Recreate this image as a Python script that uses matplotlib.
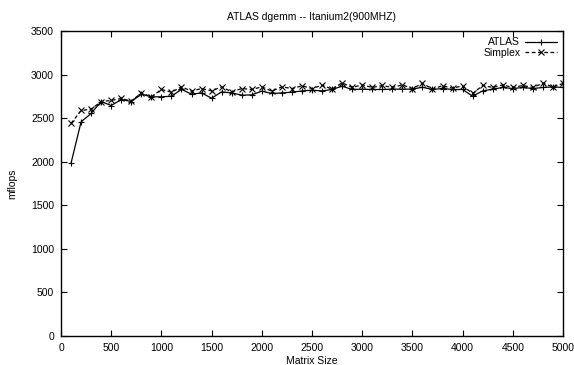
import matplotlib.pyplot as plt

plt.rcParams['font.family'] = ['Liberation Sans', 'DejaVu Sans']

sizes = list(range(100, 5001, 100))
atlas = [1985, 2458, 2554, 2691, 2645, 2714, 2691, 2775, 2745, 2745,
         2752, 2831, 2775, 2790, 2729, 2802, 2790, 2764, 2767, 2810,
         2783, 2790, 2798, 2812, 2821, 2813, 2829, 2867, 2829, 2833,
         2829, 2829, 2833, 2833, 2833, 2855, 2829, 2840, 2829, 2829,
         2752, 2813, 2833, 2852, 2840, 2852, 2840, 2852, 2859, 2852]
simplex = [2439, 2588, 2603, 2691, 2703, 2726, 2695, 2790, 2745, 2829,
           2798, 2859, 2810, 2840, 2813, 2859, 2802, 2840, 2829, 2859,
           2810, 2859, 2840, 2871, 2840, 2878, 2833, 2905, 2852, 2882,
           2852, 2875, 2852, 2882, 2840, 2898, 2836, 2871, 2844, 2871,
           2783, 2875, 2852, 2882, 2852, 2875, 2852, 2901, 2859, 2898]

fig = plt.figure(figsize=(5.74, 3.65), dpi=100)
ax = fig.add_axes([0.1063, 0.0795, 0.8745, 0.8355])

ax.plot(sizes, atlas, color='black', lw=0.9, marker='+', ms=5, mew=0.8, label='ATLAS')
ax.plot(sizes, simplex, color='black', lw=0.9, ls=(0, (3, 2)), marker='x', ms=4, mew=0.8, label='Simplex')

ax.set_xlim(0, 5000)
ax.set_ylim(0, 3500)
ax.set_xticks(range(0, 5001, 500))
ax.set_yticks(range(0, 3501, 500))
ax.tick_params(direction='in', top=True, right=True, labelsize=7.5, length=4, pad=5)
for s in ax.spines.values():
    s.set_linewidth(1.0)

ax.set_title('ATLAS dgemm -- Itanium2(900MHZ)', fontsize=7.5, pad=8)
ax.set_xlabel('Matrix Size', fontsize=7.5, labelpad=2)
ax.set_ylabel('mflops', fontsize=7.5, labelpad=10)

ax.legend(loc='upper right', frameon=False, markerfirst=False, fontsize=7.5,
          handlelength=3, handletextpad=0.5, labelspacing=0.05,
          borderaxespad=0.2)

fig.savefig('out.png', dpi=100)
